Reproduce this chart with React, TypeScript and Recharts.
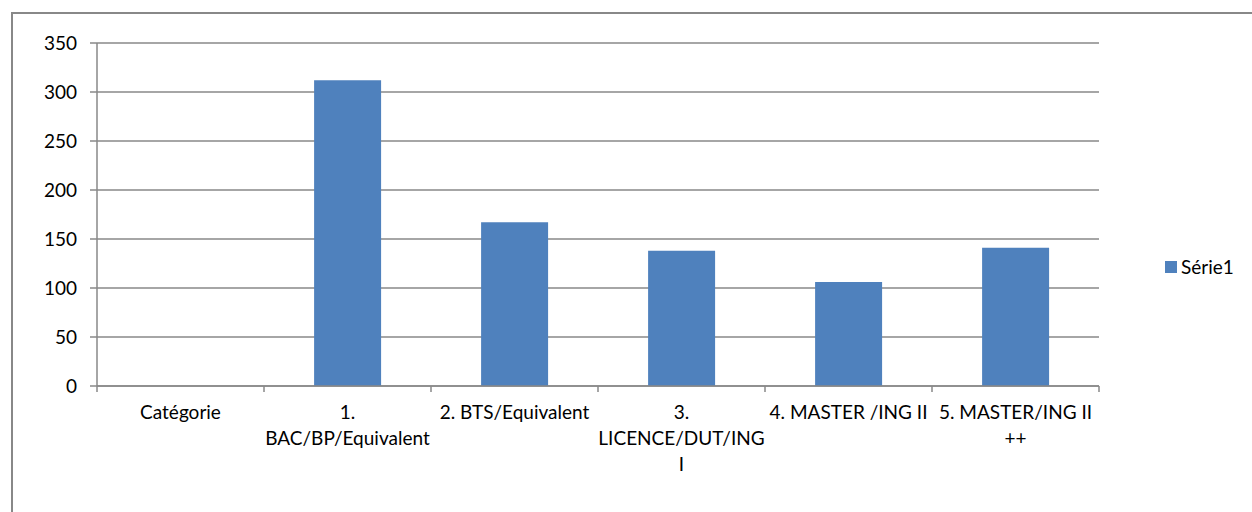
import React from 'react';
import { BarChart, Bar, XAxis, YAxis, CartesianGrid, Legend } from 'recharts';

const categories = [
  'Catégorie',
  '1.\nBAC/BP/Equivalent',
  '2. BTS/Equivalent',
  '3.\nLICENCE/DUT/ING\nI',
  '4. MASTER /ING II',
  '5. MASTER/ING II\n++',
];
const serie1: (number | null)[] = [null, 312, 167, 138, 106, 141];
const yTicks = [0, 50, 100, 150, 200, 250, 300, 350];

const data = categories.map((name, i) => ({ name, value: serie1[i] }));

const FONT = 'Lato, "Open Sans", sans-serif';
const GRID = '#888888';
const BLUE = '#4F81BD';

const CategoryTick = (props: any) => {
  const { x, y, payload, index, visibleTicksCount } = props;
  const half = payload?.offset ?? 83.5;
  const axisY = y - 6;
  const lines = String(payload.value).split('\n');
  return (
    <g>
      <line x1={x - half} x2={x - half} y1={axisY} y2={axisY + 6} stroke={GRID} strokeWidth={1.5} />
      {index === visibleTicksCount - 1 && (
        <line x1={x + half} x2={x + half} y1={axisY} y2={axisY + 6} stroke={GRID} strokeWidth={1.5} />
      )}
      <text x={x} y={axisY + 33} textAnchor="middle" fill="#000" fontSize={19} fontFamily={FONT}>
        {lines.map((l, i) => (
          <tspan key={i} x={x} dy={i === 0 ? 0 : 26}>
            {l}
          </tspan>
        ))}
      </text>
    </g>
  );
};

const LegendBox = () => (
  <div style={{ display: 'flex', alignItems: 'center', fontFamily: FONT, fontSize: 19, color: '#000' }}>
    <span style={{ width: 12, height: 12, background: BLUE, display: 'inline-block', marginRight: 4 }} />
    <span>Série1</span>
  </div>
);

export default function App() {
  return (
    <div style={{ position: 'absolute', left: 0, top: 0, width: 1252, height: 512, overflow: 'hidden', background: '#fff' }}>
      <div
        style={{
          position: 'absolute',
          left: 11,
          top: 12,
          width: 1300,
          height: 600,
          borderTop: `2px solid ${GRID}`,
          borderLeft: `2px solid ${GRID}`,
        }}
      />
      <BarChart
        width={1252}
        height={512}
        data={data}
        margin={{ top: 43, right: 153, left: 37, bottom: 36 }}
        barCategoryGap="30%"
      >
        <CartesianGrid vertical={false} stroke={GRID} strokeWidth={1.5} />
        <XAxis
          dataKey="name"
          interval={0}
          height={90}
          tickLine={false}
          tickSize={6}
          tickMargin={0}
          axisLine={{ stroke: GRID, strokeWidth: 1.5 }}
          tick={<CategoryTick />}
        />
        <YAxis
          domain={[0, 350]}
          ticks={yTicks}
          width={60}
          tickSize={7}
          tickMargin={13}
          axisLine={{ stroke: GRID, strokeWidth: 1.5 }}
          tickLine={{ stroke: GRID, strokeWidth: 1.5 }}
          tick={{ fill: '#000', fontSize: 19, fontFamily: FONT }}
        />
        <Legend
          layout="horizontal"
          verticalAlign="middle"
          align="center"
          content={<LegendBox />}
          wrapperStyle={{ left: 1165, top: 255, width: 'auto' }}
        />
        <Bar dataKey="value" name="Série1" fill={BLUE} isAnimationActive={false} />
      </BarChart>
    </div>
  );
}
